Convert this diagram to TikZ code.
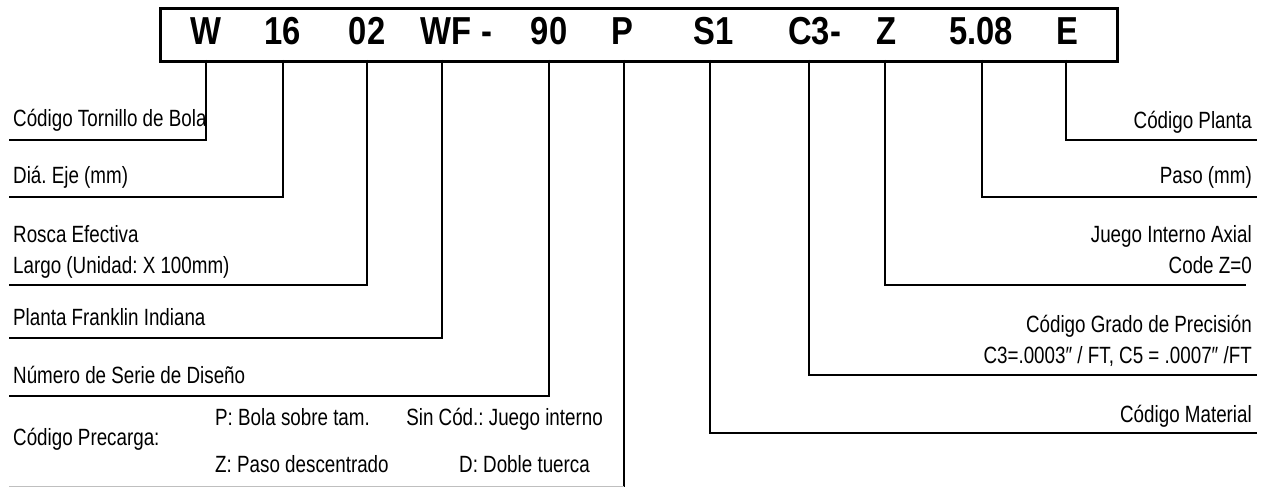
\documentclass[tikz,border=0pt]{standalone}
\usepackage{fontspec}
\setmainfont{Liberation Sans}[FakeStretch=0.8]
\newfontfamily\codefont{Liberation Sans}[FakeStretch=0.84]
\frenchspacing
\begin{document}
\begin{tikzpicture}[x=1pt,y=-1pt,
  lbl/.style={inner sep=0pt, font=\fontsize{23.5}{27}\selectfont},
  code/.style={inner sep=0pt, anchor=base, font=\codefont\bfseries\fontsize{39}{41}\selectfont},
  conn/.style={line width=2.4pt, line join=miter},
  thin/.style={line width=1pt, draw=black!25}]
\useasboundingbox (0,0) rectangle (1265,487);
% code box
\node[draw, line width=2.6pt, minimum width=957pt, minimum height=53pt, inner sep=0pt, anchor=north west] (box) at (159,7) {};
\node[code] (cW) at (206,45) {W};
\node[code] (c16) at (283,45) {16};
\node[code] (c02) at (367,45) {02};
\node[code] (cWF) at (446,45) {WF};
\node[code] (cd1) at (487,45) {-};
\node[code] (c90) at (549,45) {90};
\node[code] (cP) at (622,45) {P};
\node[code] (cS1) at (714,45) {S1};
\node[code] (cC3) at (809,45) {C3};
\node[code] (cd2) at (836,45) {-};
\node[code] (cZ) at (886,45) {Z};
\node[code] (c508) at (981,45) {5.08};
\node[code] (cE) at (1067,45) {E};
% tick tops
\coordinate (tW) at (206,60);
\coordinate (t16) at (283,60);
\coordinate (t02) at (367,60);
\coordinate (tWF) at (442,60);
\coordinate (t90) at (549,60);
\coordinate (tP) at (624,60);
\coordinate (tS1) at (710,60);
\coordinate (tC3) at (809,60);
\coordinate (tZ) at (885,60);
\coordinate (t508) at (982,60);
\coordinate (tE) at (1066,60);
% free ends
\coordinate (eW) at (9,140);
\coordinate (e16) at (9,197);
\coordinate (e02) at (9,285);
\coordinate (eWF) at (9,338);
\coordinate (e90) at (9,396);
\coordinate (eP) at (624,487);
\coordinate (eS1) at (1257,433);
\coordinate (eC3) at (1257,375);
\coordinate (eZ) at (1246,285);
\coordinate (e508) at (1257,197);
\coordinate (eE) at (1257,140);
\coordinate (gA) at (9,486);
\coordinate (gB) at (624,486);
% connectors
\draw[conn] (tW) |- (eW);
\draw[conn] (t16) |- (e16);
\draw[conn] (t02) |- (e02);
\draw[conn] (tWF) |- (eWF);
\draw[conn] (t90) |- (e90);
\draw[conn] (tP) -- (eP);
\draw[conn] (tS1) |- (eS1);
\draw[conn] (tC3) |- (eC3);
\draw[conn] (tZ) |- (eZ);
\draw[conn] (t508) |- (e508);
\draw[conn] (tE) |- (eE);
\draw[thin] (gA) -- (gB);
% left labels
\node[lbl, anchor=base west] (lW) at (13,126) {Código Tornillo de Bola};
\node[lbl, anchor=base west] (l16) at (13,183) {Diá. Eje (mm)};
\node[lbl, anchor=base west] (l02a) at (13,242) {Rosca Efectiva};
\node[lbl, anchor=base west] (l02b) at (13,273) {Largo (Unidad: X 100mm)};
\node[lbl, anchor=base west] (lWF) at (13,325) {Planta Franklin Indiana};
\node[lbl, anchor=base west] (l90) at (13,383) {Número de Serie de Diseño};
\node[lbl, anchor=base west] (lP) at (13,445) {Código Precarga:};
\node[lbl, anchor=base west] (lP1) at (215,425) {P: Bola sobre tam.};
\node[lbl, anchor=base east] (lP2) at (603,425) {Sin Cód.: Juego interno};
\node[lbl, anchor=base west] (lP3) at (215,472) {Z: Paso descentrado};
\node[lbl, anchor=base east] (lP4) at (590,472) {D: Doble tuerca};
% right labels
\node[lbl, anchor=base east] (lE) at (1252,128) {Código Planta};
\node[lbl, anchor=base east] (l508) at (1252,183) {Paso (mm)};
\node[lbl, anchor=base east] (lZa) at (1252,242) {Juego Interno Axial};
\node[lbl, anchor=base east] (lZb) at (1252,273) {Code Z=0};
\node[lbl, anchor=base east] (lC3a) at (1252,332) {Código Grado de Precisión};
\node[lbl, anchor=base east] (lC3b) at (1252,363) {C3=.0003″ / FT, C5 = .0007″ /FT};
\node[lbl, anchor=base east] (lS1) at (1252,422) {Código Material};
\end{tikzpicture}
\end{document}
